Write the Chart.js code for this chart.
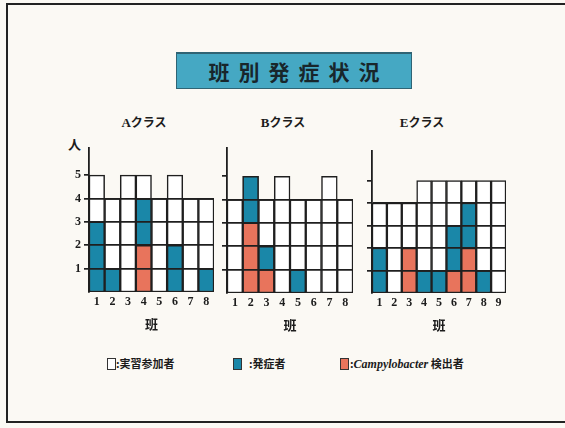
<!DOCTYPE html>
<html>
<head>
<meta charset="utf-8">
<script src="https://cdn.jsdelivr.net/npm/chart.js@4/dist/chart.umd.min.js"></script>
<style>
    html, body { margin: 0; padding: 0; }
    body {
        width: 565px; height: 428px; overflow: hidden; position: relative;
        background: #fbf9f4;
        font-family: "Liberation Serif", "Noto Sans CJK JP", serif;
        color: #1c1c1c;
    }
    .frame {
        position: absolute; left: 6px; top: 3px; width: 600px; height: 416px;
        border: 2px solid #222;
    }
    .title-box {
        position: absolute; left: 176px; top: 52px; width: 234px; height: 34px;
        background: #45a8c3; border: 1px solid #2f6474; border-top-width: 2px;
        font-family: "Noto Sans CJK JP", sans-serif; font-weight: bold;
        font-size: 21px; line-height: 34px; letter-spacing: 9px;
        text-align: center; text-indent: 9px; color: #18262b;
    }
    .cls {
        position: absolute; top: 113px; width: 80px; text-align: center;
        font-weight: bold; font-size: 13px;
    }
    .cls span { font-family: "Noto Sans CJK JP", sans-serif; font-size: 12px; }
    .hito {
        position: absolute; left: 68px; top: 134px;
        font-family: "Noto Sans CJK JP", sans-serif; font-weight: bold; font-size: 13px;
    }
    canvas { position: absolute; }
    .legend {
        position: absolute; top: 356px; height: 14px;
        font-family: "Noto Sans CJK JP", sans-serif; font-weight: bold; font-size: 11px;
        line-height: 14px; white-space: nowrap;
    }
    .legend i.box {
        position: absolute; left: 0; top: 2px; width: 7px; height: 10px;
        border: 1px solid #333;
    }
    .legend em { font-family: "Liberation Serif", serif; font-size: 12px; }
</style>
</head>
<body>
<div class="frame"></div>
<div class="title-box">班別発症状況</div>

<div class="cls" style="left:104px">A<span>クラス</span></div>
<div class="cls" style="left:243px">B<span>クラス</span></div>
<div class="cls" style="left:382px">E<span>クラス</span></div>
<div class="hito">人</div>

<canvas id="chart-a"></canvas>
<canvas id="chart-b"></canvas>
<canvas id="chart-e"></canvas>

<div class="legend" style="left:107px"><i class="box" style="background:#fff"></i><span style="margin-left:9px">:実習参加者</span></div>
<div class="legend" style="left:233px"><i class="box" style="background:#1a87a8"></i><span style="margin-left:16px">:発症者</span></div>
<div class="legend" style="left:340px"><i class="box" style="background:#e8745c"></i><span style="margin-left:10px">:<em>Campylobacter</em> 検出者</span></div>

<script>
// 班 numbers and y ticks
var groupsAB = ['1', '2', '3', '4', '5', '6', '7', '8'];
var groupsE = ['1', '2', '3', '4', '5', '6', '7', '8', '9'];
var yTicks = [1, 2, 3, 4, 5];

// A class
var aJoined = [5, 4, 5, 5, 4, 5, 4, 4];
var aSick = [3, 1, 0, 4, 0, 2, 0, 1];
var aCampy = [0, 0, 0, 2, 0, 0, 0, 0];

// B class
var bJoined = [4, 5, 4, 5, 4, 4, 5, 4];
var bSick = [0, 5, 2, 0, 1, 0, 0, 0];
var bCampy = [0, 3, 1, 0, 0, 0, 0, 0];

// E class
var eJoined = [4, 4, 4, 5, 5, 5, 5, 5, 5];
var eSick = [2, 0, 2, 1, 1, 3, 4, 1, 0];
var eCampy = [0, 0, 2, 0, 0, 1, 2, 0, 0];

var LINE = '#1f1f1f';
var BLUE = '#1a87a8';
var RED = '#e8745c';

function makeBars(canvasId, area, labels, joined, sick, campy, yMax, showTickLabels) {
    var canvas = document.getElementById(canvasId);
    var axisW = 30, padTop = 10, padRight = 6, xAxisH = 40;
    canvas.width = (area.right - area.left) + axisW + padRight;
    canvas.height = (area.bottom - area.top) + padTop + xAxisH;
    canvas.style.left = (area.left - axisW) + 'px';
    canvas.style.top = (area.top - padTop) + 'px';

    var bar = {
        grouped: false,
        categoryPercentage: 1,
        barPercentage: 1,
        borderColor: LINE,
        borderWidth: 1.5,
        borderSkipped: false
    };

    return new Chart(canvas, {
        type: 'bar',
        data: {
            labels: labels,
            datasets: [
                Object.assign({ label: 'Campylobacter 検出者', data: campy, backgroundColor: RED }, bar),
                Object.assign({ label: '発症者', data: sick, backgroundColor: BLUE }, bar),
                Object.assign({ label: '実習参加者', data: joined, backgroundColor: '#ffffff' }, bar)
            ]
        },
        options: {
            responsive: false,
            devicePixelRatio: 1,
            animation: false,
            events: [],
            layout: { padding: { top: padTop, right: padRight, left: 0, bottom: 0 } },
            plugins: { legend: { display: false }, tooltip: { enabled: false } },
            scales: {
                x: {
                    grid: { display: false, drawTicks: false },
                    border: { display: false },
                    ticks: {
                        color: '#1c1c1c', padding: 3, maxRotation: 0, autoSkip: false,
                        font: { family: 'Liberation Serif', weight: 'bold', size: 12 }
                    },
                    title: {
                        display: true, text: '班', color: '#1c1c1c',
                        padding: { top: 4, bottom: 0 },
                        font: { family: 'Noto Sans CJK JP', weight: 'bold', size: 13 }
                    },
                    afterFit: function (scale) { scale.height = xAxisH; }
                },
                y: {
                    min: 0,
                    max: yMax,
                    afterBuildTicks: function (scale) {
                        scale.ticks = yTicks.map(function (v) { return { value: v }; });
                    },
                    // unit lines go over the bars, the top row is closed by the bar borders
                    grid: {
                        z: 1,
                        color: function (ctx) { return ctx.tick && ctx.tick.value < 5 ? LINE : 'rgba(0,0,0,0)'; },
                        tickColor: LINE,
                        lineWidth: 1.7,
                        tickLength: 5
                    },
                    border: { display: true, z: 1, color: LINE, width: 1.8 },
                    ticks: {
                        padding: 3,
                        color: showTickLabels ? '#1c1c1c' : 'rgba(0,0,0,0)',
                        font: { family: 'Liberation Serif', weight: 'bold', size: 12 }
                    },
                    afterFit: function (scale) { scale.width = axisW; }
                }
            }
        }
    });
}

makeBars('chart-a', { left: 89, right: 214, top: 148, bottom: 292 }, groupsAB, aJoined, aSick, aCampy, 6.15, true);
makeBars('chart-b', { left: 227, right: 353, top: 148, bottom: 293 }, groupsAB, bJoined, bSick, bCampy, 6.2, false);
makeBars('chart-e', { left: 372, right: 506, top: 151, bottom: 293 }, groupsE, eJoined, eSick, eCampy, 6.3, false);
</script>
</body>
</html>
